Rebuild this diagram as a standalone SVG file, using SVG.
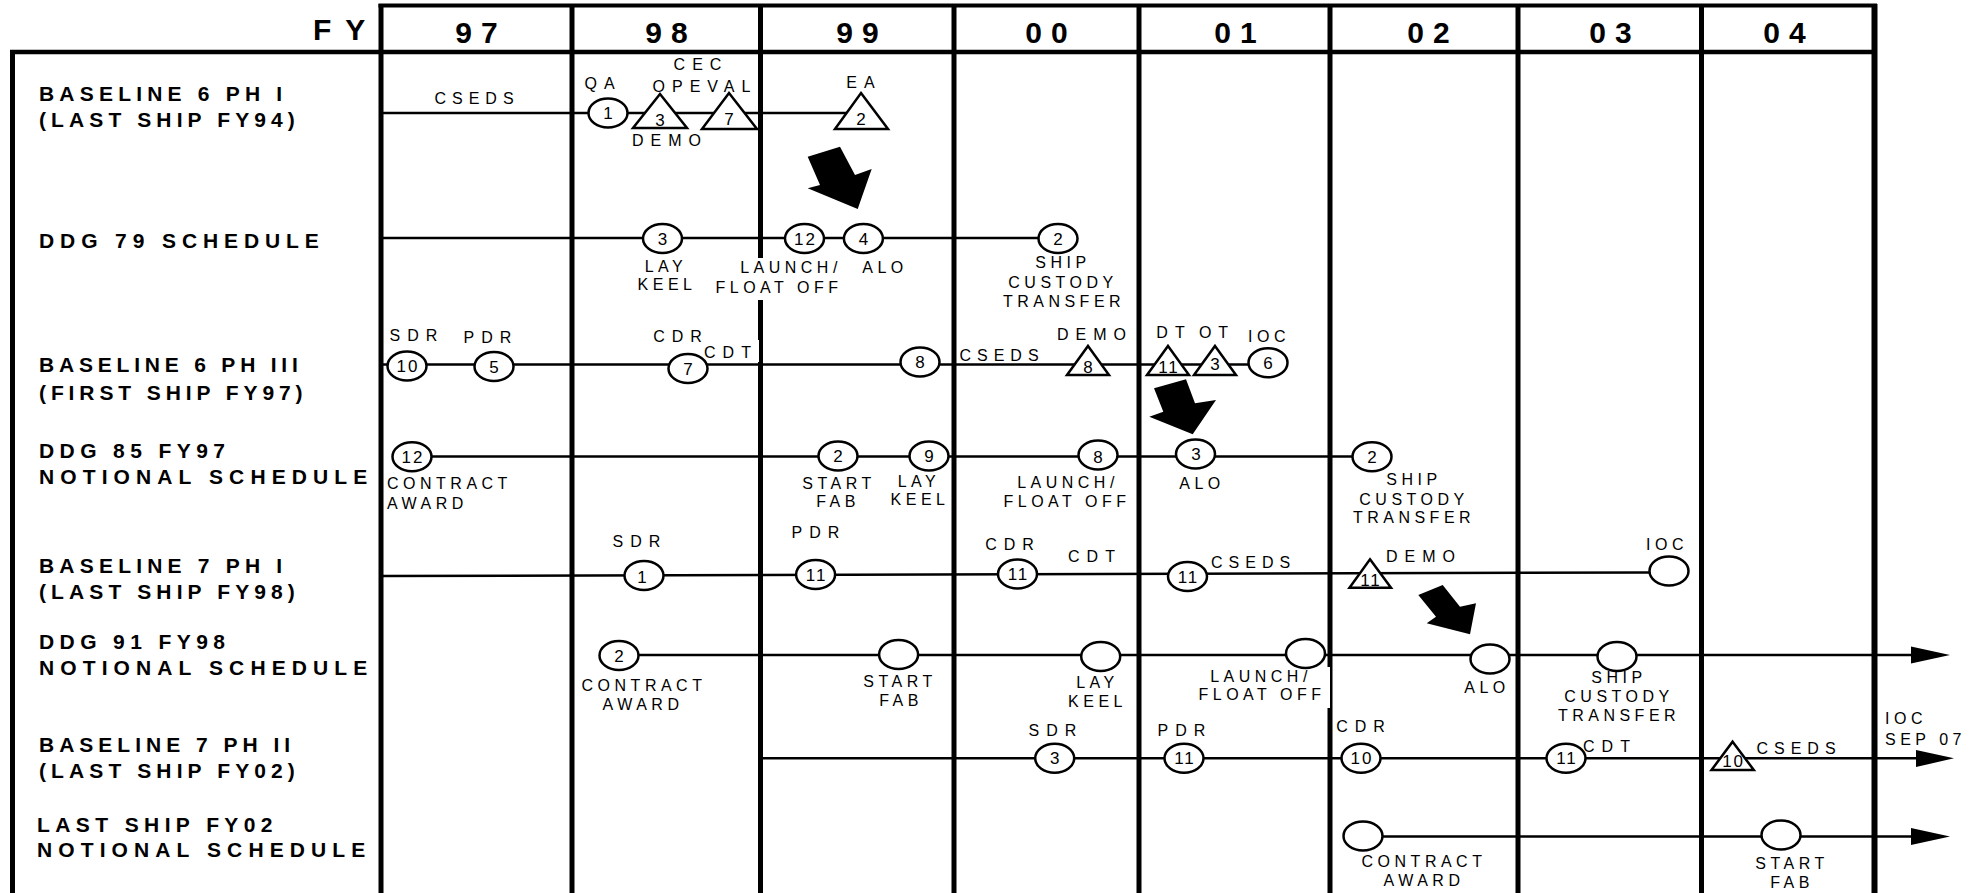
<svg xmlns="http://www.w3.org/2000/svg" width="1986" height="893" viewBox="0 0 1986 893">
<style>
text{font-family:"Liberation Sans",Arial,sans-serif;fill:#000}
.hdr{font-size:30px;font-weight:bold;letter-spacing:9px;text-anchor:middle}
.row{font-size:21px;font-weight:bold}
.s{font-size:16px;letter-spacing:4.5px;text-anchor:middle}
.sl{font-size:16px;letter-spacing:4.5px}
.a{font-size:16px;letter-spacing:7px;text-anchor:middle}
.al{font-size:16px;letter-spacing:6px}
.cs{letter-spacing:6px}
.n{font-size:17px;letter-spacing:2px;text-anchor:middle}
.g{stroke:#000;stroke-width:5;fill:none}
.c{stroke:#000;stroke-width:2.5;fill:none}
.e{fill:#fff;stroke:#000;stroke-width:2.5}
.t{fill:#fff;stroke:#000;stroke-width:2.5;stroke-linejoin:miter}
.bk{fill:#fff;stroke:none}
.ar{fill:#000;stroke:none}
</style>
<rect width="1986" height="893" fill="#fff"/>
<g id="grid">
<line class="g" x1="378.5" y1="5.5" x2="1877" y2="5.5" style="stroke-width:4"/>
<line class="g" x1="10" y1="52" x2="1877" y2="52" style="stroke-width:4.5"/>
<line class="g" x1="12.5" y1="50" x2="12.5" y2="893"/>
<line class="g" x1="381" y1="4" x2="381" y2="893"/>
<line class="g" x1="572" y1="4" x2="572" y2="893"/>
<line class="g" x1="760.5" y1="4" x2="760.5" y2="893"/>
<line class="g" x1="954" y1="4" x2="954" y2="893"/>
<line class="g" x1="1139" y1="4" x2="1139" y2="893"/>
<line class="g" x1="1330" y1="4" x2="1330" y2="893"/>
<line class="g" x1="1518" y1="4" x2="1518" y2="893"/>
<line class="g" x1="1701.5" y1="4" x2="1701.5" y2="893"/>
<line class="g" x1="1874.5" y1="4" x2="1874.5" y2="893" style="stroke-width:6"/>
</g>
<g id="header">
<text class="hdr" x="313" y="40" style="text-anchor:start;letter-spacing:14px">FY</text>
<text class="hdr" x="481" y="43">97</text>
<text class="hdr" x="671" y="43">98</text>
<text class="hdr" x="862" y="43">99</text>
<text class="hdr" x="1051" y="43">00</text>
<text class="hdr" x="1240" y="43">01</text>
<text class="hdr" x="1433" y="43">02</text>
<text class="hdr" x="1615" y="43">03</text>
<text class="hdr" x="1789" y="43">04</text>
</g>
<g id="row-labels">
<text class="row" x="39" y="101" style="letter-spacing:5.2px">BASELINE 6 PH I</text>
<text class="row" x="39" y="127" style="letter-spacing:5.1px">(LAST SHIP FY94)</text>
<text class="row" x="39" y="248" style="letter-spacing:5.9px">DDG 79 SCHEDULE</text>
<text class="row" x="39" y="372" style="letter-spacing:4.8px">BASELINE 6 PH III</text>
<text class="row" x="39" y="400" style="letter-spacing:4.9px">(FIRST SHIP FY97)</text>
<text class="row" x="39" y="458" style="letter-spacing:5.4px">DDG 85 FY97</text>
<text class="row" x="39" y="484" style="letter-spacing:6.1px">NOTIONAL SCHEDULE</text>
<text class="row" x="39" y="573" style="letter-spacing:5.2px">BASELINE 7 PH I</text>
<text class="row" x="39" y="599" style="letter-spacing:5.1px">(LAST SHIP FY98)</text>
<text class="row" x="39" y="649" style="letter-spacing:5.4px">DDG 91 FY98</text>
<text class="row" x="39" y="675" style="letter-spacing:6.1px">NOTIONAL SCHEDULE</text>
<text class="row" x="39" y="752" style="letter-spacing:5px">BASELINE 7 PH II</text>
<text class="row" x="39" y="778" style="letter-spacing:5.1px">(LAST SHIP FY02)</text>
<text class="row" x="37" y="832" style="letter-spacing:5.4px">LAST SHIP FY02</text>
<text class="row" x="37" y="857" style="letter-spacing:6.1px">NOTIONAL SCHEDULE</text>
</g>
<g id="label-backgrounds">
<rect class="bk" x="715" y="258" width="122" height="42"/>
<rect class="bk" x="704" y="340" width="55" height="22"/>
<rect class="bk" x="1197" y="667" width="133" height="41"/>
</g>
<g id="connectors">
<line class="c" x1="381" y1="113" x2="861" y2="113"/>
<line class="c" x1="381" y1="238" x2="1040" y2="238"/>
<line class="c" x1="383" y1="364.5" x2="1250" y2="364.5"/>
<line class="c" x1="430" y1="456.5" x2="1352" y2="456.5"/>
<line class="c" x1="381" y1="576" x2="1650" y2="572.5"/>
<line class="c" x1="638" y1="655" x2="1913" y2="655"/>
<polygon class="ar" points="1911,646.5 1950,655 1911,663.5"/>
<line class="c" x1="760" y1="758.3" x2="1918" y2="758.3"/>
<polygon class="ar" points="1916,750 1954,758.3 1916,767"/>
<line class="c" x1="1382" y1="836.5" x2="1913" y2="836.5"/>
<polygon class="ar" points="1911,828 1950,836.5 1911,845"/>
</g>
<g id="callout-arrows">
<polygon class="ar" points="807.7,156.7 840,146.7 855,175 871.7,169 857.7,209 807.7,188.3 820,185"/>
<polygon class="ar" points="1154,388.3 1186,379.3 1195,403.3 1216,400 1192.7,434.3 1149.3,416.7 1163.3,411.7"/>
<polygon class="ar" points="1418.3,595 1442.7,585 1460,606.7 1476,603.3 1470,634.3 1426.7,623.3 1436,616.7"/>
</g>
<g id="row1">
<text class="a cs" x="477" y="104">CSEDS</text>
<g id="r1-qa"><ellipse class="e" cx="608" cy="113" rx="19.5" ry="14.5"/><text class="n" x="609" y="119">1</text><text class="a" x="603" y="89">QA</text></g>
<g id="r1-demo"><polygon class="t" points="660,94 687,128 633,128"/><text class="n" x="661" y="126">3</text><text class="a" x="670" y="146">DEMO</text></g>
<g id="r1-cec"><polygon class="t" points="729,93 757,129 702,129"/><text class="n" x="730" y="125">7</text><text class="a" x="701" y="70">CEC</text><text class="a" x="705" y="92">OPEVAL</text></g>
<g id="r1-ea"><polygon class="t" points="861,93 888,129 835,129"/><text class="n" x="862" y="125">2</text><text class="a" x="864" y="88">EA</text></g>
</g>
<g id="row2">
<g id="r2-keel"><ellipse class="e" cx="662.5" cy="238.5" rx="19.5" ry="14.5"/><text class="n" x="663.5" y="244.5">3</text><text class="s" x="666" y="272">LAY</text><text class="s" x="667" y="290">KEEL</text></g>
<g id="r2-launch"><ellipse class="e" cx="804.5" cy="238.5" rx="19.5" ry="14.5"/><text class="n" x="805.5" y="244.5">12</text><text class="s" x="791" y="273">LAUNCH/</text><text class="s" x="779" y="293">FLOAT OFF</text></g>
<g id="r2-alo"><ellipse class="e" cx="863.4" cy="238.5" rx="19.5" ry="14.5"/><text class="n" x="864.4" y="244.5">4</text><text class="s" x="885" y="273">ALO</text></g>
<g id="r2-ship"><ellipse class="e" cx="1058" cy="238.5" rx="19.5" ry="14.5"/><text class="n" x="1059" y="244.5">2</text><text class="s" x="1063" y="268">SHIP</text><text class="s" x="1063" y="288">CUSTODY</text><text class="s" x="1064" y="307">TRANSFER</text></g>
</g>
<g id="row3">
<g id="r3-sdr"><ellipse class="e" cx="407" cy="366" rx="19.5" ry="14.5"/><text class="n" x="408" y="372">10</text><text class="a" x="417" y="341">SDR</text></g>
<g id="r3-pdr"><ellipse class="e" cx="494" cy="366.5" rx="19.5" ry="14.5"/><text class="n" x="495" y="372.5">5</text><text class="a" x="491" y="343">PDR</text></g>
<g id="r3-cdr"><ellipse class="e" cx="688" cy="368.5" rx="19.5" ry="14.5"/><text class="n" x="689" y="374.5">7</text><text class="a" x="681" y="342">CDR</text><text class="a" x="731" y="358">CDT</text></g>
<g id="r3-csedsm"><ellipse class="e" cx="920" cy="362" rx="19.5" ry="14.5"/><text class="n" x="921" y="368">8</text><text class="a cs" x="1002" y="361">CSEDS</text></g>
<g id="r3-demo"><polygon class="t" points="1088,346 1109,375 1067,375"/><text class="n" x="1089" y="373">8</text><text class="a" x="1095" y="340">DEMO</text></g>
<g id="r3-dt"><polygon class="t" points="1168,346 1189,375 1147,375"/><text class="n" x="1169" y="373">11</text><text class="a" x="1174" y="338">DT</text></g>
<g id="r3-ot"><polygon class="t" points="1215,346 1236,375 1194,375"/><text class="n" x="1216" y="370">3</text><text class="a" x="1217" y="338">OT</text></g>
<g id="r3-ioc"><ellipse class="e" cx="1268" cy="362.7" rx="19.5" ry="14.5"/><text class="n" x="1269" y="368.7">6</text><text class="s" x="1269" y="342">IOC</text></g>
</g>
<g id="row4">
<g id="r4-award"><ellipse class="e" cx="412" cy="456.7" rx="19.5" ry="14.5"/><text class="n" x="413" y="462.7">12</text><text class="sl" x="387" y="489">CONTRACT</text><text class="sl" x="387" y="509">AWARD</text></g>
<g id="r4-fab"><ellipse class="e" cx="838" cy="456" rx="19.5" ry="14.5"/><text class="n" x="839" y="462">2</text><text class="s" x="839" y="489">START</text><text class="s" x="838" y="507">FAB</text></g>
<g id="r4-keel"><ellipse class="e" cx="929" cy="456" rx="19.5" ry="14.5"/><text class="n" x="930" y="462">9</text><text class="s" x="919" y="487">LAY</text><text class="s" x="920" y="505">KEEL</text></g>
<g id="r4-launch"><ellipse class="e" cx="1098" cy="455" rx="19.5" ry="14.5"/><text class="n" x="1099" y="463">8</text><text class="s" x="1068" y="488">LAUNCH/</text><text class="s" x="1067" y="507">FLOAT OFF</text></g>
<g id="r4-alo"><ellipse class="e" cx="1195.5" cy="454" rx="19.5" ry="14.5"/><text class="n" x="1197" y="460">3</text><text class="s" x="1202" y="489">ALO</text></g>
<g id="r4-ship"><ellipse class="e" cx="1372" cy="456.7" rx="19.5" ry="14.5"/><text class="n" x="1373" y="462.7">2</text><text class="s" x="1414" y="485">SHIP</text><text class="s" x="1414" y="505">CUSTODY</text><text class="s" x="1414" y="523">TRANSFER</text></g>
</g>
<g id="row5">
<g id="r5-sdr"><ellipse class="e" cx="644" cy="575.5" rx="19.5" ry="14.5"/><text class="n" x="643" y="583">1</text><text class="a" x="640" y="547">SDR</text></g>
<g id="r5-pdr"><ellipse class="e" cx="815.6" cy="574.5" rx="19.5" ry="14.5"/><text class="n" x="816.6" y="581">11</text><text class="a" x="819" y="538">PDR</text></g>
<g id="r5-cdr"><ellipse class="e" cx="1017.5" cy="574" rx="19.5" ry="14.5"/><text class="n" x="1018.5" y="580">11</text><text class="a" x="1013" y="550">CDR</text><text class="a" x="1095" y="562">CDT</text></g>
<g id="r5-cseds"><ellipse class="e" cx="1187.5" cy="576.5" rx="19.5" ry="14.5"/><text class="n" x="1188.5" y="583">11</text><text class="al" x="1211" y="568">CSEDS</text></g>
<g id="r5-demo"><polygon class="t" points="1370,559.3 1391,587.7 1349.5,587.7"/><text class="n" x="1371" y="586">11</text><text class="a" x="1424" y="562">DEMO</text></g>
<g id="r5-ioc"><ellipse class="e" cx="1669" cy="571" rx="19.5" ry="14.5"/><text class="s" x="1667" y="550">IOC</text></g>
</g>
<g id="row6">
<g id="r6-award"><ellipse class="e" cx="619" cy="655.5" rx="19.5" ry="14.5"/><text class="n" x="620" y="661.5">2</text><text class="s" x="644" y="691">CONTRACT</text><text class="s" x="643" y="710">AWARD</text></g>
<g id="r6-fab"><ellipse class="e" cx="898.6" cy="654.5" rx="19.5" ry="14.5"/><text class="s" x="900" y="687">START</text><text class="s" x="901" y="706">FAB</text></g>
<g id="r6-keel"><ellipse class="e" cx="1100.7" cy="656.5" rx="19.5" ry="14.5"/><text class="s" x="1097.5" y="688">LAY</text><text class="s" x="1097.5" y="707">KEEL</text></g>
<g id="r6-launch"><ellipse class="e" cx="1305.5" cy="653.5" rx="19.5" ry="14.5"/><text class="s" x="1261" y="682">LAUNCH/</text><text class="s" x="1262" y="700">FLOAT OFF</text></g>
<g id="r6-alo"><ellipse class="e" cx="1490" cy="659" rx="19.5" ry="14.5"/><text class="s" x="1487" y="693">ALO</text></g>
<g id="r6-ship"><ellipse class="e" cx="1617" cy="656.5" rx="19.5" ry="14.5"/><text class="s" x="1619" y="683">SHIP</text><text class="s" x="1619" y="702">CUSTODY</text><text class="s" x="1619" y="721">TRANSFER</text></g>
</g>
<g id="row7">
<g id="r7-sdr"><ellipse class="e" cx="1054.7" cy="758.3" rx="19.5" ry="14.5"/><text class="n" x="1055.7" y="764.3">3</text><text class="a" x="1056" y="736">SDR</text></g>
<g id="r7-pdr"><ellipse class="e" cx="1184" cy="758.3" rx="19.5" ry="14.5"/><text class="n" x="1185" y="764.3">11</text><text class="a" x="1185" y="736">PDR</text></g>
<g id="r7-cdr"><ellipse class="e" cx="1361" cy="758.3" rx="19.5" ry="14.5"/><text class="n" x="1362" y="764.3">10</text><text class="a" x="1364" y="732">CDR</text></g>
<g id="r7-cdt"><ellipse class="e" cx="1566" cy="758.3" rx="19.5" ry="14.5"/><text class="n" x="1567" y="764.3">11</text><text class="a" x="1610" y="752">CDT</text></g>
<g id="r7-cseds"><polygon class="t" points="1732.6,741.7 1753.8,770 1711.5,770"/><text class="n" x="1733.6" y="767">10</text><text class="a cs" x="1799" y="754">CSEDS</text></g>
<g id="r7-ioc"><text class="sl" x="1885" y="724">IOC</text><text class="sl" x="1885" y="745">SEP 07</text></g>
</g>
<g id="row8">
<g id="r8-award"><ellipse class="e" cx="1363" cy="836" rx="19.5" ry="14.5"/><text class="s" x="1424" y="867">CONTRACT</text><text class="s" x="1424" y="886">AWARD</text></g>
<g id="r8-fab"><ellipse class="e" cx="1781" cy="835" rx="19.5" ry="14.5"/><text class="s" x="1792" y="869">START</text><text class="s" x="1792" y="888">FAB</text></g>
</g>
</svg>
